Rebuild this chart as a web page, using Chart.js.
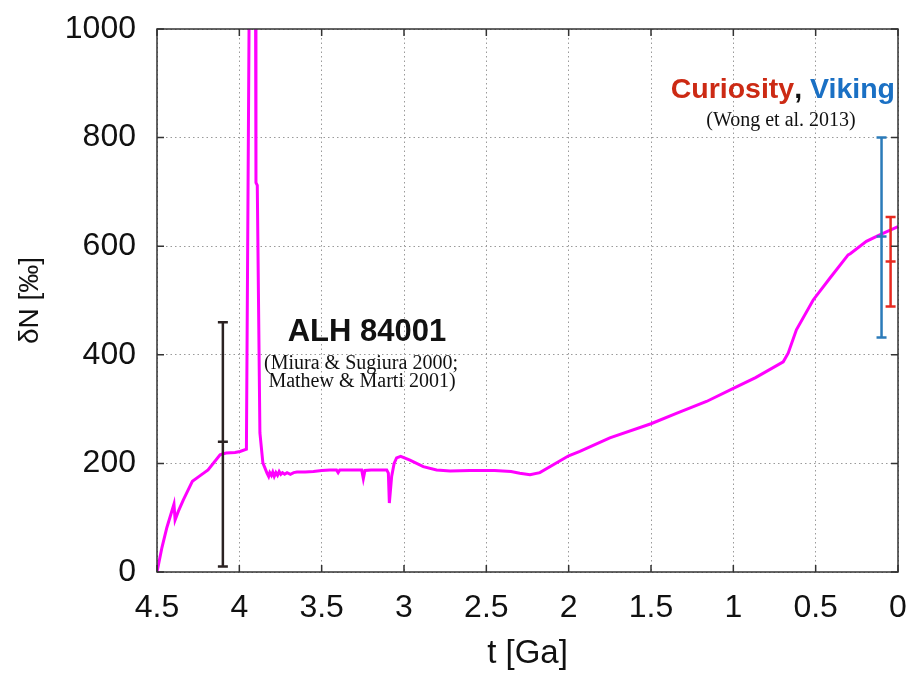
<!DOCTYPE html>
<html>
<head>
<meta charset="utf-8">
<script src="https://cdn.jsdelivr.net/npm/chart.js@4.4.1/dist/chart.umd.min.js"></script>
<style>
  html, body { margin: 0; padding: 0; background: #ffffff; }
  #wrap { width: 912px; height: 679px; }
</style>
</head>
<body>
<div id="wrap"><canvas id="c" width="912" height="679"></canvas></div>
<script>
// ---- data ----
const tGa = [
  4.5, 4.47, 4.44, 4.411, 4.397, 4.39, 4.37, 4.34, 4.29, 4.285, 4.24, 4.19, 4.117, 4.107, 4.08, 4.026, 3.996, 3.957,
  3.939, 3.902, 3.899, 3.891, 3.875, 3.857, 3.832,
  3.822, 3.815, 3.805, 3.797, 3.788, 3.778, 3.768, 3.758, 3.748, 3.738, 3.725, 3.71, 3.69, 3.67, 3.65, 3.60, 3.55,
  3.50, 3.45, 3.41, 3.40, 3.39, 3.30, 3.257, 3.247, 3.237, 3.20, 3.105, 3.095, 3.089, 3.075, 3.06, 3.045, 3.02,
  2.964, 2.883, 2.802, 2.72, 2.60, 2.45, 2.35, 2.297, 2.235, 2.175, 2.0, 1.932, 1.75, 1.5, 1.346, 1.163, 1.0,
  0.865, 0.697, 0.667, 0.617, 0.515, 0.414, 0.303, 0.29, 0.192, 0.111, 0.0
];
const deltaN = [
  0, 45, 82, 111, 125, 96, 112, 133, 164, 167, 177, 188, 216, 217, 219, 220, 222, 226,
  1100, 1100, 717, 712, 256, 201, 182,
  176, 183, 178, 184, 176, 183, 178, 185, 180, 183, 180, 183, 180, 183, 184, 184, 185,
  187, 188, 188, 183, 188, 188, 188, 172, 187, 188, 188, 182, 127, 176, 200, 210, 213,
  206, 194, 188, 186, 187, 187, 185, 182, 179, 183, 214, 222, 247, 273, 292, 314, 338,
  358, 387, 403, 446, 501, 541, 584, 586, 609, 621, 636
];
const xTicks = [0, 0.5, 1, 1.5, 2, 2.5, 3, 3.5, 4, 4.5];
const yTicks = [0, 200, 400, 600, 800, 1000];

// error bars: ALH 84001, Viking, Curiosity
const errT    = [4.1, 0.1, 0.045];
const errLow  = [10, 432, 489];
const errMid  = [240, 618, 572];
const errHigh = [460, 800, 654];

// ---- styles ----
const errColors = ['#2b2222', '#2b7bb9', '#e62a20'];

const overlay = {
  id: 'overlay',
  afterDatasetsDraw(chart) {
    const {ctx, chartArea: a, scales: {x, y}} = chart;
    ctx.save();
    // error bars
    for (let i = 0; i < errT.length; i++) {
      const px = x.getPixelForValue(errT[i]);
      ctx.strokeStyle = errColors[i];
      ctx.lineWidth = 2.5;
      ctx.beginPath();
      ctx.moveTo(px, y.getPixelForValue(errLow[i]));
      ctx.lineTo(px, y.getPixelForValue(errHigh[i]));
      for (const v of [errLow[i], errMid[i], errHigh[i]]) {
        const py = y.getPixelForValue(v);
        ctx.moveTo(px - 5, py);
        ctx.lineTo(px + 5, py);
      }
      ctx.stroke();
    }
    // frame
    ctx.strokeStyle = '#333333';
    ctx.lineWidth = 1.5;
    ctx.strokeRect(a.left, a.top, a.right - a.left, a.bottom - a.top);
    // inward ticks
    ctx.beginPath();
    for (const v of xTicks) {
      const px = x.getPixelForValue(v);
      ctx.moveTo(px, a.bottom); ctx.lineTo(px, a.bottom - 7);
      ctx.moveTo(px, a.top); ctx.lineTo(px, a.top + 7);
    }
    for (const v of yTicks) {
      const py = y.getPixelForValue(v);
      ctx.moveTo(a.left, py); ctx.lineTo(a.left + 7, py);
      ctx.moveTo(a.right, py); ctx.lineTo(a.right - 7, py);
    }
    ctx.stroke();

    // annotations
    ctx.textAlign = 'center';
    ctx.textBaseline = 'middle';
    ctx.fillStyle = '#111111';
    ctx.font = 'bold 31px "Liberation Sans", Arial, sans-serif';
    ctx.fillText('ALH 84001', 367, 332);
    ctx.font = '20px "Liberation Serif", "Times New Roman", serif';
    ctx.fillText('(Miura & Sugiura 2000;', 361, 364);
    ctx.fillText('Mathew & Marti 2001)', 362, 382);

    // Curiosity, Viking
    ctx.font = 'bold 28.5px "Liberation Sans", Arial, sans-serif';
    const parts = [['Curiosity', '#cc2a14'], [', ', '#111111'], ['Viking', '#1a70c4']];
    let total = 0;
    for (const p of parts) total += ctx.measureText(p[0]).width;
    let cx = 895 - total;
    ctx.textAlign = 'left';
    for (const p of parts) {
      ctx.fillStyle = p[1];
      ctx.fillText(p[0], cx, 90);
      cx += ctx.measureText(p[0]).width;
    }
    ctx.textAlign = 'center';
    ctx.fillStyle = '#111111';
    ctx.font = '20px "Liberation Serif", "Times New Roman", serif';
    ctx.fillText('(Wong et al. 2013)', 781, 121);
    ctx.restore();
  }
};

const points = tGa.map((t, i) => ({x: t, y: deltaN[i]}));

new Chart(document.getElementById('c'), {
  type: 'scatter',
  data: {
    datasets: [{
      data: points,
      showLine: true,
      borderColor: '#ff00ff',
      borderWidth: 3,
      pointRadius: 0,
      tension: 0,
      fill: false
    }]
  },
  options: {
    responsive: false,
    animation: false,
    devicePixelRatio: 1,
    layout: { padding: { top: 29, right: 14, left: 0, bottom: 0 } },
    plugins: { legend: { display: false }, tooltip: { enabled: false } },
    scales: {
      x: {
        type: 'linear',
        reverse: true,
        min: 0, max: 4.5,
        afterBuildTicks: s => { s.ticks = xTicks.map(v => ({value: v})); },
        afterFit: s => { s.height = 107; s.paddingLeft = 0; s.paddingRight = 0; },
        grid: { color: '#9a9a9a', lineWidth: 1, drawTicks: false },
        border: { display: false, dash: [1.5, 3] },
        ticks: {
          padding: 17,
          color: '#111111',
          font: { family: '"Liberation Sans", Arial, sans-serif', size: 32 },
          callback: v => String(v)
        },
        title: {
          display: true,
          text: 't [Ga]',
          color: '#111111',
          font: { family: '"Liberation Sans", Arial, sans-serif', size: 33 },
          padding: { top: 0, bottom: 5 }
        }
      },
      y: {
        type: 'linear',
        min: 0, max: 1000,
        afterBuildTicks: s => { s.ticks = yTicks.map(v => ({value: v})); },
        afterFit: s => { s.width = 157; s.paddingTop = 0; s.paddingBottom = 0; },
        grid: { color: '#9a9a9a', lineWidth: 1, drawTicks: false },
        border: { display: false, dash: [1.5, 3] },
        ticks: {
          padding: 21,
          color: '#111111',
          font: { family: '"Liberation Sans", Arial, sans-serif', size: 32 },
          callback: v => String(v)
        },
        title: {
          display: true,
          text: 'δN [‰]',
          color: '#111111',
          font: { family: '"Liberation Sans", Arial, sans-serif', size: 28 },
          padding: { top: 13, bottom: 0 }
        }
      }
    }
  },
  plugins: [overlay]
});
</script>
</body>
</html>
